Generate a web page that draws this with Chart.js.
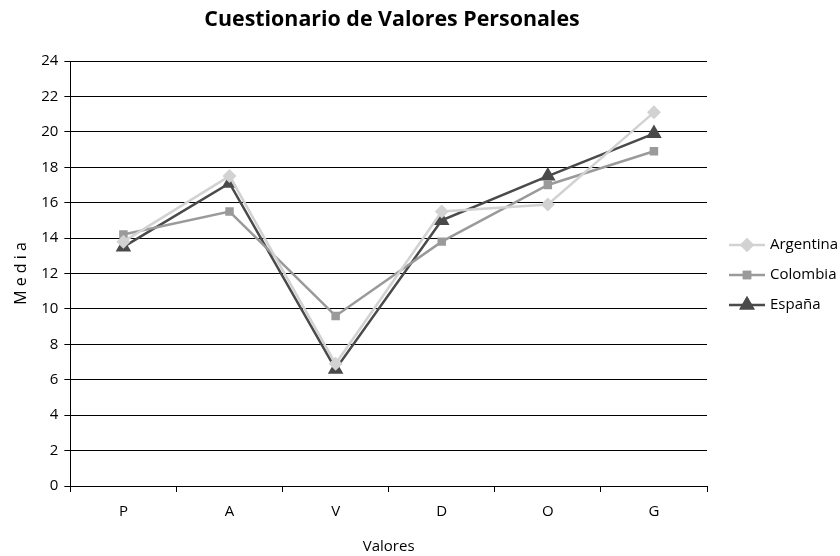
<!DOCTYPE html>
<html>
<head>
<meta charset="utf-8">
<script src="https://cdn.jsdelivr.net/npm/chart.js@4"></script>
<style>
  body { margin: 0; background: #fff; }
  #wrap { width: 840px; height: 556px; }
</style>
</head>
<body>
<div id="wrap"><canvas id="myChart"></canvas></div>
<script>
// Data
const categories = ["P", "A", "V", "D", "O", "G"];
const argentina = [13.8, 17.5, 6.9, 15.5, 15.9, 21.1];
const colombia = [14.2, 15.5, 9.6, 13.8, 17.0, 18.9];
const espana = [13.5, 17.1, 6.6, 15.0, 17.5, 19.9];
const yTicks = [0, 2, 4, 6, 8, 10, 12, 14, 16, 18, 20, 22, 24];

const FONT = "'Open Sans', 'Liberation Sans', sans-serif";
const chartTitle = "Cuestionario de Valores Personales";

const series = [
  { label: "Argentina", data: argentina, color: "#d2d2d2", style: "rectRot", radius: 7 },
  { label: "Colombia", data: colombia, color: "#9a9a9a", style: "rect", radius: 6 },
  { label: "España", data: espana, color: "#4a4a4a", style: "triangle", radius: 9 },
];

// title + legend drawn by hand (legend = line with marker in the middle)
const sideLegend = {
  id: "sideLegend",
  afterDraw(chart) {
    const ctx = chart.ctx;

    ctx.save();
    ctx.fillStyle = "#000";
    ctx.font = "bold 21.4px " + FONT;
    ctx.textAlign = "center";
    ctx.textBaseline = "middle";
    ctx.fillText(chartTitle, 392, 20);
    ctx.restore();

    const x0 = 729;
    let y = 245;
    series.forEach((s) => {
      ctx.save();
      ctx.strokeStyle = s.color;
      ctx.lineWidth = 2.5;
      ctx.beginPath();
      ctx.moveTo(x0, y);
      ctx.lineTo(x0 + 36, y);
      ctx.stroke();
      ctx.fillStyle = s.color;
      ctx.beginPath();
      Chart.helpers.drawPoint(ctx, { pointStyle: s.style, radius: s.radius, rotation: 0, borderWidth: 0 }, x0 + 18, y);
      ctx.fill();
      ctx.fillStyle = "#000";
      ctx.font = "15px " + FONT;
      ctx.textBaseline = "middle";
      ctx.fillText(s.label, x0 + 41, y);
      ctx.restore();
      y += 30;
    });
  },
};

const data = {
  labels: categories,
  datasets: series.map((s) => ({
    label: s.label,
    data: s.data,
    borderColor: s.color,
    backgroundColor: s.color,
    pointStyle: s.style,
    pointRadius: s.radius,
    pointHoverRadius: s.radius,
    pointBorderWidth: 0,
    borderWidth: 2.5,
    tension: 0,
  })),
};

const config = {
  type: "line",
  data: data,
  options: {
    responsive: true,
    maintainAspectRatio: false,
    animation: false,
    layout: { padding: { left: 8, right: 133, top: 61, bottom: 0 } },
    plugins: {
      legend: { display: false },
      tooltip: { enabled: false },
      title: { display: false },
    },
    scales: {
      x: {
        offset: true,
        grid: {
          offset: true,
          drawOnChartArea: false,
          drawTicks: true,
          tickLength: 6,
          color: "#000",
        },
        border: { color: "#000", width: 1 },
        ticks: { color: "#000", font: { family: FONT, size: 15 }, padding: 11 },
        title: {
          display: true,
          text: "Valores",
          color: "#000",
          font: { family: FONT, size: 15 },
          padding: { top: 6, bottom: 0 },
        },
      },
      y: {
        min: 0,
        max: 24,
        afterBuildTicks: (axis) => {
          axis.ticks = yTicks.map((v) => ({ value: v }));
        },
        grid: { color: "#000", tickLength: 6, lineWidth: 1 },
        border: { color: "#000", width: 1 },
        ticks: { color: "#000", font: { family: FONT, size: 15 }, padding: 6 },
        title: {
          display: true,
          text: "M e d i a",
          color: "#000",
          font: { family: FONT, size: 16 },
          padding: { bottom: 4 },
        },
      },
    },
  },
  plugins: [sideLegend],
};

new Chart(document.getElementById("myChart"), config);
</script>
</body>
</html>
